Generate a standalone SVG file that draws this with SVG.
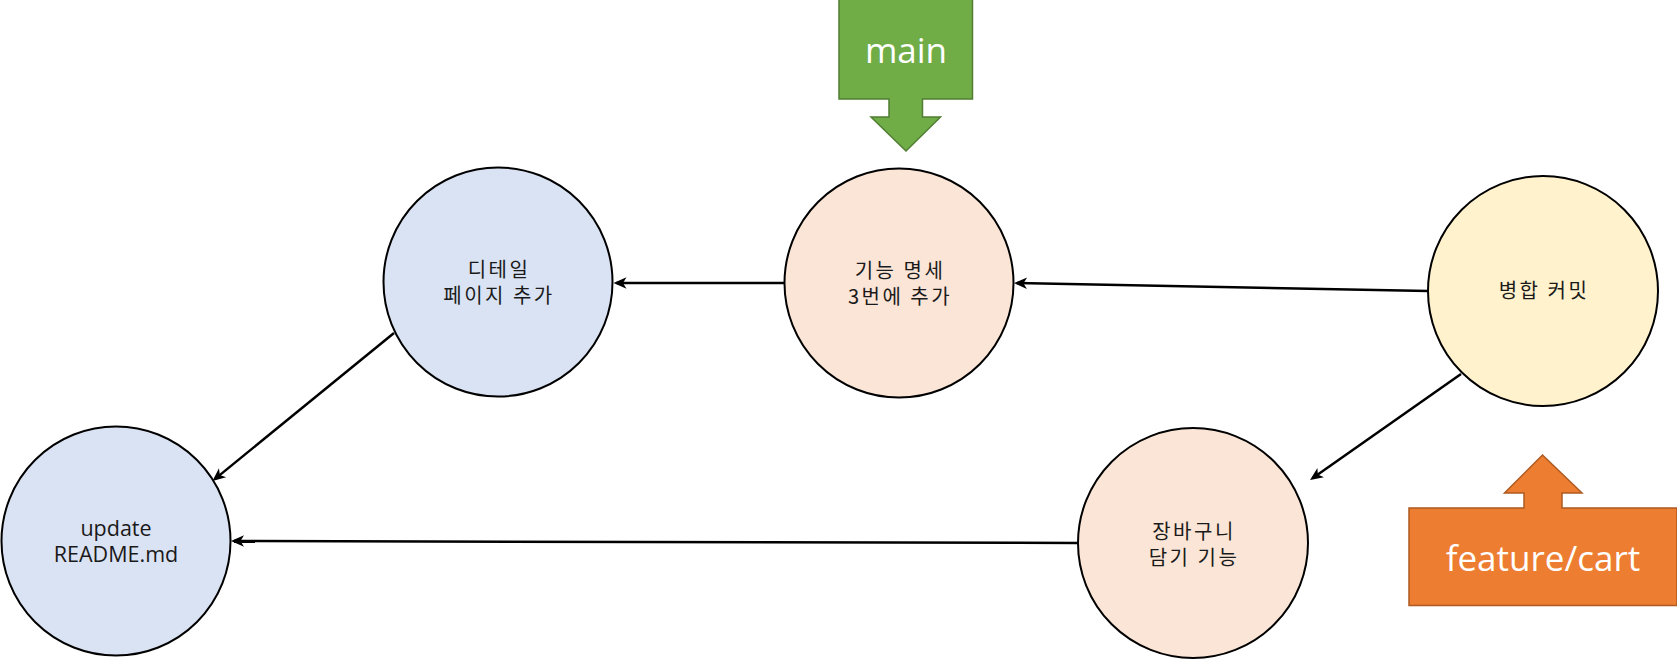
<svg xmlns="http://www.w3.org/2000/svg" width="1677" height="659" viewBox="0 0 1677 659">
<style>
.node{stroke:#000;stroke-width:2}
.blue{fill:#dae3f3}
.peach{fill:#fbe5d6}
.yellow{fill:#fff2cc}
.lbl{font-family:"Open Sans","Noto Sans CJK KR",sans-serif;font-size:21.5px;fill:#1a1a1a;text-anchor:middle}
.ko{font-family:"Noto Sans CJK KR",sans-serif;font-size:20px;letter-spacing:2.5px}
.edge{stroke:#000;stroke-width:2.5;fill:none;marker-end:url(#arr)}
.tag{font-family:"Open Sans",sans-serif;font-size:35px;fill:#fff;text-anchor:middle}
</style>
<defs>
<marker id="arr" markerUnits="userSpaceOnUse" markerWidth="15" markerHeight="13" refX="11" refY="6.5" orient="auto" viewBox="0 0 15 13">
<path d="M14,6.5 L1,0.8 L4.5,6.5 L1,12.2 Z" fill="#000"/>
</marker>
</defs>
<rect width="1677" height="659" fill="#fff"/>
<g id="connectors">
<line class="edge" x1="785" y1="283" x2="616.5" y2="283"/>
<line class="edge" x1="1428" y1="291" x2="1017" y2="283.1"/>
<line class="edge" x1="1461" y1="374" x2="1312.5" y2="478.3"/>
<line class="edge" x1="1078" y1="543" x2="234" y2="541"/>
<line class="edge" x1="394" y1="333" x2="214.8" y2="479.1"/>
</g>
<g id="node-update">
<circle class="node blue" cx="116" cy="541" r="114.5"/>
<text class="lbl" x="116" y="536">update</text>
<text class="lbl" x="116" y="562">README.md</text>
</g>
<g id="node-detail">
<circle class="node blue" cx="498" cy="282" r="114.5"/>
<text class="lbl ko" x="499" y="277">디테일</text>
<text class="lbl ko" x="499" y="303">페이지 추가</text>
</g>
<g id="node-spec">
<circle class="node peach" cx="899" cy="283" r="114.5"/>
<text class="lbl ko" x="900" y="278">기능 명세</text>
<text class="lbl ko" x="900" y="304">3번에 추가</text>
</g>
<g id="node-merge">
<circle class="node yellow" cx="1543" cy="291" r="115"/>
<text class="lbl ko" x="1544" y="298">병합 커밋</text>
</g>
<g id="node-cart">
<circle class="node peach" cx="1193" cy="543" r="115"/>
<text class="lbl ko" x="1194" y="539">장바구니</text>
<text class="lbl ko" x="1194" y="565">담기 기능</text>
</g>
<g id="tag-main">
<path d="M839,-1 H972.5 V99 H922.5 V117 H940.5 L906,151 L871,117 H889 V99 H839 Z" fill="#70ad47" stroke="#507e32" stroke-width="1.5"/>
<text class="tag" x="906" y="63">main</text>
</g>
<g id="tag-feature">
<path d="M1409,508 H1524 V493 H1504.5 L1542.5,455 L1582,493 H1562 V508 H1677 V605.5 H1409 Z" fill="#ed7d31" stroke="#ae5a21" stroke-width="1.5"/>
<text class="tag" x="1543" y="571">feature/cart</text>
</g>
</svg>
